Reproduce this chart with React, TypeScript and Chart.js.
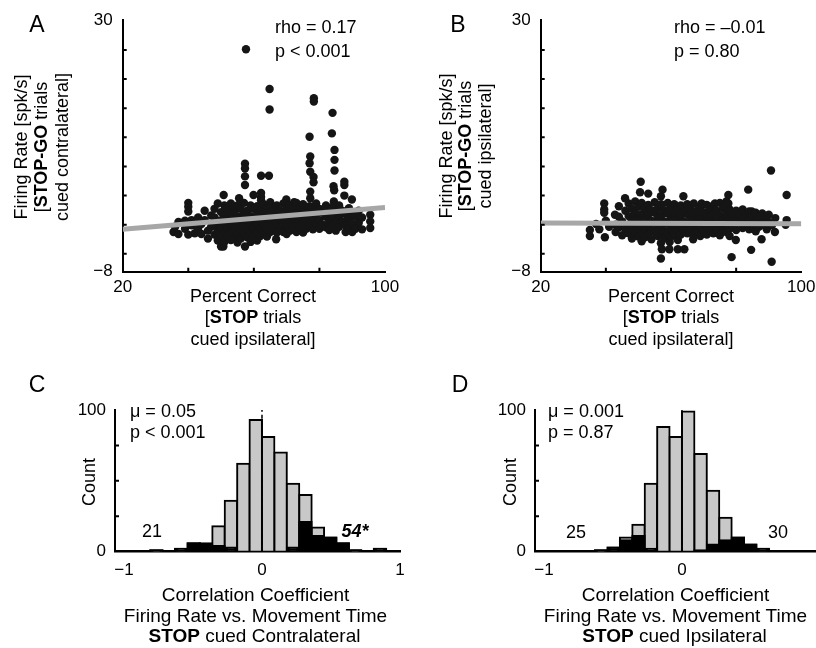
import React, { useEffect, useRef } from "react";
import { Chart, registerables } from "chart.js";
Chart.register(...registerables);

const FONT = '"Liberation Sans", Arial, Helvetica, sans-serif';

// ---------------- Panels A / B : scatter ----------------
const scatterXTicks = [20, 40, 60, 80, 100];
const scatterYTicks = [-8, -5.3, -0.9, 3.5, 7.9, 12.3, 16.7, 21.1, 25.5, 30];
const fitA: [number, number][] = [[20, -1.6], [100, 1.7]];
const fitB: [number, number][] = [[20, -0.65], [100, -0.75]];

const ptsA: [number, number][] = [
  [57.6,25.6],[64.8,19.6],[64.8,16.5],[78.3,18.2],[78.3,17.7],[84.0,16.0],[83.8,12.9],[77.0,12.4],
  [77.2,9.4],[84.6,10.4],[84.6,8.9],[84.6,7.3],[77.0,8.4],[77.2,7.1],[78.2,6.3],[78.2,5.5],[77.2,4.1],
  [77.2,3.1],[84.3,4.9],[84.5,4.3],[87.6,5.6],[87.6,5.1],[87.6,3.5],[89.9,2.9],[57.3,8.3],[57.3,7.6],
  [57.3,6.4],[57.3,5.1],[62.2,6.5],[64.6,6.5],[62.2,3.9],[62.2,3.3],[62.2,2.8],[59.9,3.6],[55.5,3.1],
  [50.8,3.6],[69.9,2.9],[72.3,2.5],[40.0,2.4],[40.0,1.8],[40.0,1.1],[35.5,-2.0],[95.5,0.6],[95.5,-0.4],
  [95.5,-1.4],[50.7,-4.2],[57.3,-4.2],[66.8,-3.1],[84.4,2.6],
  [36,-1.2],[37,-0.5],[37,-2.3],[39,-1.5],[39,-0.3],[40,-2.4],[41,-1.0],[41,-0.2],[42,-2.2],
  [43,-1.5],[43,0.2],[44,-2.3],[44,-0.8],[45,1.2],[45,-0.2],[46,-1.8],[46,-3.0],[47,0.5],[47,-1.2],
  [48,1.5],[48,0.2],[48,-1.0],[48,-2.4],[49,2.3],[49,-0.5],[49,-1.8],[49,-3.3],[50,1.0],[50,-0.2],
  [50,-1.4],[50,-2.8],[50,-4.2],[51,2.0],[51,0.5],[51,-0.9],[51,-2.1],[51,-3.5],[52,1.6],[52,0.0],
  [52,-1.3],[52,-2.6],[53,2.3],[53,0.9],[53,-0.6],[53,-1.9],[53,-3.2],[54,1.3],[54,-0.1],[54,-1.5],
  [54,-2.9],[55,2.0],[55,0.4],[55,-1.0],[55,-2.3],[55,-3.6],
  [56,1.5],[56,-0.3],[56,-1.7],[56,-3.0],[57,2.4],[57,0.8],[57,-0.8],[57,-2.2],[58,1.2],[58,-0.2],
  [58,-1.6],[58,-2.8],[59,2.0],[59,0.4],[59,-1.0],[59,-2.4],[59,-3.5],[60,1.5],[60,0.0],[60,-1.4],
  [60,-2.7],[61,1.9],[61,0.6],[61,-0.8],[61,-2.0],[61,-3.3],[62,1.2],[62,-0.3],[62,-1.6],[62,-2.6],
  [63,2.2],[63,0.6],[63,-0.9],[63,-2.2],[64,1.6],[64,0.0],[64,-1.4],[64,-2.7],[65,2.5],[65,0.9],
  [65,-0.6],[65,-2.0],[66,1.5],[66,0.2],[66,-1.2],[67,2.0],[67,0.6],[67,-0.8],[67,-2.1],[68,1.2],
  [68,-0.2],[68,-1.6],[69,2.3],[69,0.8],[69,-0.6],[69,-2.0],[70,1.7],[70,0.3],[70,-1.1],[70,-2.3],
  [71,2.1],[71,0.8],[71,-0.5],[71,-1.8],[72,1.5],[72,0.0],[72,-1.3],[73,2.4],[73,0.9],[73,-0.6],
  [73,-2.0],[74,1.6],[74,0.2],[74,-1.2],[75,2.2],[75,0.7],[75,-0.8],[75,-2.1],[76,1.3],[76,-0.1],
  [76,-1.5],[77,1.9],[77,0.6],[77,-0.9],[78,1.5],[78,0.0],[78,-1.6],
  [79,2.3],[79,0.7],[79,-0.8],[80,1.5],[80,-0.2],[80,-1.5],[81,0.9],[81,-0.9],[82,2.0],[82,0.3],
  [82,-1.3],[83,1.2],[83,-0.4],[83,-1.7],[84,1.8],[84,0.3],[84,-1.1],[85,1.0],[85,-0.6],[85,-1.8],
  [86,2.0],[86,0.4],[86,-1.2],[87,1.2],[87,-0.4],[88,0.7],[88,-1.0],[88,-2.0],[89,1.6],[89,0.0],
  [89,-1.4],[90,0.8],[90,-0.8],[90,-2.0],[91,0.3],[91,-1.5],[92,1.2],[92,-0.6],[93,-1.6],[93,0.2],
];

const ptsB: [number, number][] = [
  [35.1,-1.7],[35.1,-2.6],[39.7,-2.8],[39.5,2.3],[39.5,1.4],[39.5,0.9],[37,-0.8],[38,-1.6],[40,-0.3],
  [41,-1.2],[42.8,0.6],
  [43,-0.9],[43,-2.0],[44,1.9],[44,0.3],[44,-1.3],[45,-0.4],[45,-2.5],[45.9,3.1],[46,1.2],[46,-1.5],
  [47,2.3],[47,0.4],[47,-0.9],[47,-2.2],[48,1.5],[48,-0.2],[48,-1.6],[48,-3.0],[49,2.6],[49,0.8],
  [49,-0.7],[49,-2.1],[50,1.8],[50,0.1],[50,-1.3],[50,-2.7],[50.7,5.6],[50.5,4.0],[53,3.8],
  [51,2.4],[51,0.7],[51,-0.8],[51,-2.2],[51,-3.4],[52,1.5],[52,-0.1],[52,-1.5],[52,-2.8],[53,2.1],
  [53,0.6],[53,-0.9],[53,-2.3],[54,1.3],[54,-0.3],[54,-1.7],[54,-3.1],[55,2.5],[55,0.9],[55,-0.6],
  [55,-2.0],[56,1.6],[56,0.0],[56,-1.4],[56,-2.6],[57,2.2],[57,0.5],[57,-1.0],[57,-2.3],[57.4,4.4],
  [56.9,3.4],[56.9,-3.7],[57.2,-4.6],[56.9,-6.0],[58,1.3],[58,-0.4],[58,-1.8],[58,-3.0],[59,2.4],
  [59,0.8],[59,-0.7],[59,-2.1],[59.6,-3.5],[59.5,-4.6],[60,1.6],[60,0.0],[60,-1.5],[60,-2.7],
  [61,2.2],[61,0.6],[61,-0.9],[61,-2.2],[62,1.4],[62,-0.2],[62,-1.6],[62.1,-3.2],[62.1,-4.6],[63,2.0],
  [63,0.4],[63,-1.1],[63,-2.4],[63.8,3.4],[64,1.3],[64,-0.4],[64,-1.8],[64.1,-4.6],[65,2.2],[65,0.7],
  [65,-0.8],[65,-2.2],[66,1.4],[66,-0.1],[66,-1.5],[66.8,-3.1],[67,2.3],[67,0.6],[67,-1.0],[67,-2.4],
  [68,1.2],[68,-0.4],[68,-1.8],[69,1.8],[69,0.2],[69,-1.2],[69,-2.6],[69.4,2.3],[70,1.0],[70,-0.6],
  [70,-2.0],
  [71,2.1],[71,0.4],[71,-1.0],[71,-2.4],[72,1.3],[72,-0.3],[72,-1.7],[73,2.0],[73,0.6],[73,-0.9],
  [73,-2.2],[73.5,2.3],[74,1.2],[74,-0.4],[74,-1.8],[75,2.4],[75,0.5],[75,-1.0],[75,-2.5],[76,1.6],
  [76,-0.2],[76,-1.6],[77,2.6],[77,0.8],[77,-0.7],[77,-2.0],[77.6,3.6],[77.6,2.3],[78,1.4],[78,-0.1],
  [78,-1.5],[78,-2.6],[78.6,-5.8],[79,0.6],[79,-0.9],[79.9,-3.2],[80,1.2],[80,-0.2],[80,-1.7],
  [81,0.8],[81,-0.6],[82,1.4],[82,0.0],[82,-1.4],[83,0.5],[83,-0.8],[83.7,4.4],[84,1.1],[84,-0.2],
  [84,-1.6],[84.6,-4.7],[84.8,1.1],[85,0.3],[85,-1.0],[86,0.9],[86,-0.5],[86,-1.9],[87,0.2],[87,-1.2],
  [87.8,-3.1],[88,0.8],[88,-0.6],[89,0.2],[89,-1.1],[89.4,-1.6],[90,0.6],[90,-0.5],[90.7,7.3],
  [90.9,-6.5],[91,-1.0],[91.9,-2.0],[92,0.1],[95.5,3.6],[95.5,-0.2],[95.2,-0.9],
];

// ---------------- Panels C / D : histograms ----------------
const binCenters = [-0.765,-0.675,-0.585,-0.495,-0.405,-0.315,-0.225,-0.135,-0.045,0.045,0.135,0.225,0.315,0.405,0.495,0.585,0.675,0.765,0.855];
const allC = [1,0,2,6,6,18,36,62,93,81,70,48,40,17,10,6,1,0,2];
const sigC = [1,0,2,6,5,4,3,0,0,0,0,3,21,11,10,6,1,0,2];
const allD = [0,0,1,3,10,19,48,88,81,99,69,43,24,10,5,2,0,0,0];
const sigD = [0,0,1,3,8,11,2,0,0,0,1,5,8,10,5,2,0,0,0];
const histXTicks = [-1, 0, 1];
const histYTicks = [0, 25, 50, 75, 100];
const zeroLine: [number, number][] = [[0, 0], [0, 100]];

// ---------------- text helpers ----------------
type Seg = { t: string; b?: boolean; i?: boolean };
function rich(ctx: CanvasRenderingContext2D, segs: Seg[], x: number, y: number, size: number, align: "left" | "center" = "center") {
  const fonts = segs.map((s) => `${s.i ? "italic " : ""}${s.b ? "bold " : ""}${size}px ${FONT}`);
  let total = 0;
  const ws = segs.map((s, k) => { ctx.font = fonts[k]; const w = ctx.measureText(s.t).width; total += w; return w; });
  let cx = align === "center" ? x - total / 2 : x;
  ctx.textAlign = "left";
  ctx.textBaseline = "middle";
  ctx.fillStyle = "#000";
  segs.forEach((s, k) => { ctx.font = fonts[k]; ctx.fillText(s.t, cx, y); cx += ws[k]; });
}
function rotated(ctx: CanvasRenderingContext2D, segs: Seg[], x: number, y: number, size: number) {
  ctx.save();
  ctx.translate(x, y);
  ctx.rotate(-Math.PI / 2);
  rich(ctx, segs, 0, 0, size);
  ctx.restore();
}

function overlay(offX: number, offY: number, xt: number[], yt: number[], draw: (ctx: CanvasRenderingContext2D) => void) {
  return {
    id: "overlay",
    afterDatasetsDraw(chart: any) {
      const { ctx, chartArea } = chart;
      const xs = chart.scales.x, ys = chart.scales.y;
      ctx.save();
      ctx.strokeStyle = "#000";
      ctx.lineWidth = 2;
      ctx.beginPath();
      xt.forEach((v) => { const p = xs.getPixelForValue(v); ctx.moveTo(p, chartArea.bottom); ctx.lineTo(p, chartArea.bottom - 4); });
      yt.forEach((v) => { const p = ys.getPixelForValue(v); ctx.moveTo(chartArea.left, p); ctx.lineTo(chartArea.left + 4, p); });
      ctx.stroke();
      ctx.restore();
    },
    afterDraw(chart: any) {
      const ctx = chart.ctx;
      ctx.save();
      ctx.translate(-offX, -offY);
      draw(ctx);
      ctx.restore();
    },
  };
}

const minus = (v: number) => (v < 0 ? "\u2212" + String(-v) : String(v));

function axisCommon(min: number, max: number, ticks: number[], labelled: number[], pad: number, fit: (s: any) => void, bw: number) {
  return {
    type: "linear",
    offset: false,
    min, max,
    afterBuildTicks: (s: any) => { s.ticks = ticks.map((v) => ({ value: v })); },
    afterFit: fit,
    grid: { display: false, drawTicks: false, offset: false },
    border: { display: true, color: "#000", width: bw },
    ticks: {
      autoSkip: false, maxRotation: 0, padding: pad, color: "#000",
      font: { family: FONT, size: 17 },
      callback: (v: number) => (labelled.includes(v) ? minus(v) : ""),
    },
  };
}

type Box = { left: number; top: number; width: number; height: number; l: number; r: number; t: number; b: number };

function scatterConfig(pts: [number, number][], fit: [number, number][], box: Box, draw: (ctx: CanvasRenderingContext2D) => void) {
  return {
    type: "scatter",
    data: {
      datasets: [
        { data: fit.map(([x, y]) => ({ x, y })), showLine: true, borderColor: "#a7a7a7", borderWidth: 5, pointRadius: 0, borderCapStyle: "butt", order: 0 },
        { data: pts.map(([x, y]) => ({ x, y })), backgroundColor: "#151515", borderWidth: 0, pointRadius: 4.2, pointHoverRadius: 4.2, order: 1 },
      ],
    },
    options: {
      animation: false, responsive: false, maintainAspectRatio: false,
      events: [],
      layout: { padding: { left: 0, top: box.t - box.top, right: box.left + box.width - box.r, bottom: 0 } },
      plugins: { legend: { display: false }, tooltip: { enabled: false } },
      scales: {
        x: axisCommon(20, 100, scatterXTicks, [20, 100], 5, (s: any) => { s.height = box.top + box.height - box.b; }, 2),
        y: axisCommon(-8, 30, scatterYTicks, [-8, 30], 10, (s: any) => { s.width = box.l - box.left; }, 2),
      },
    },
    plugins: [overlay(box.left, box.top, [40, 60, 80], scatterYTicks.slice(1, -1), draw)],
  };
}

function histConfig(all: number[], sig: number[], box: Box, draw: (ctx: CanvasRenderingContext2D) => void) {
  const barBase = { borderColor: "#000", borderWidth: 2, inflateAmount: 1, borderSkipped: false, grouped: false, barPercentage: 1, categoryPercentage: 1 };
  return {
    type: "bar",
    data: {
      datasets: [
        { type: "line", data: zeroLine.map(([x, y]) => ({ x, y })), borderColor: "#000", borderWidth: 1.5, borderDash: [4, 3], pointRadius: 0, order: 0 },
        { ...barBase, data: binCenters.map((x, k) => ({ x, y: sig[k] || null })), backgroundColor: "#000", order: 1 },
        { ...barBase, data: binCenters.map((x, k) => ({ x, y: all[k] || null })), backgroundColor: "#c8c8c8", order: 2 },
      ],
    },
    options: {
      animation: false, responsive: false, maintainAspectRatio: false,
      events: [],
      layout: { padding: { left: 0, top: box.t - box.top, right: box.left + box.width - box.r, bottom: 0 } },
      plugins: { legend: { display: false }, tooltip: { enabled: false } },
      scales: {
        x: axisCommon(-1.065, 1.0, histXTicks, [-1, 0, 1], 8, (s: any) => { s.height = box.top + box.height - box.b; }, 2.5),
        y: axisCommon(0, 100, histYTicks, [0, 100], 9, (s: any) => { s.width = box.l - box.left; }, 2),
      },
    },
    plugins: [overlay(box.left, box.top, [], [25, 50, 75], draw)],
  };
}

const TS = 18; // annotation / title size
const BS = 19;
const LS = 23;

function drawA(ctx: CanvasRenderingContext2D) {
  rich(ctx, [{ t: "A" }], 37, 26, LS);
  rich(ctx, [{ t: "rho = 0.17" }], 275, 28, TS, "left");
  rich(ctx, [{ t: "p < 0.001" }], 275, 52, TS, "left");
  rich(ctx, [{ t: "Percent Correct" }], 253, 297, TS);
  rich(ctx, [{ t: "[" }, { t: "STOP", b: true }, { t: " trials" }], 253, 318.5, TS);
  rich(ctx, [{ t: "cued ipsilateral]" }], 253, 340, TS);
  rotated(ctx, [{ t: "Firing Rate [spk/s]" }], 22, 147, TS);
  rotated(ctx, [{ t: "[" }, { t: "STOP-GO", b: true }, { t: " trials" }], 42.5, 147, TS);
  rotated(ctx, [{ t: "cued contralateral]" }], 63, 147, TS);
}
function drawB(ctx: CanvasRenderingContext2D) {
  rich(ctx, [{ t: "B" }], 458, 26, LS);
  rich(ctx, [{ t: "rho = \u20130.01" }], 674, 28, TS, "left");
  rich(ctx, [{ t: "p = 0.80" }], 674, 52, TS, "left");
  rich(ctx, [{ t: "Percent Correct" }], 671, 297, TS);
  rich(ctx, [{ t: "[" }, { t: "STOP", b: true }, { t: " trials" }], 671, 318.5, TS);
  rich(ctx, [{ t: "cued ipsilateral]" }], 671, 340, TS);
  rotated(ctx, [{ t: "Firing Rate [spk/s]" }], 447, 146, TS);
  rotated(ctx, [{ t: "[" }, { t: "STOP-GO", b: true }, { t: " trials" }], 466.5, 146, TS);
  rotated(ctx, [{ t: "cued ipsilateral]" }], 486, 146, TS);
}
function drawC(ctx: CanvasRenderingContext2D) {
  rich(ctx, [{ t: "C" }], 37, 386, LS);
  rich(ctx, [{ t: "\u03bc = 0.05" }], 130, 412, TS, "left");
  rich(ctx, [{ t: "p < 0.001" }], 130, 433, TS, "left");
  rotated(ctx, [{ t: "Count" }], 90, 482, TS);
  rich(ctx, [{ t: "21" }], 152, 532, TS);
  rich(ctx, [{ t: "54*", b: true, i: true }], 355, 532, TS);
  rich(ctx, [{ t: "Correlation Coefficient" }], 255.5, 596, BS);
  rich(ctx, [{ t: "Firing Rate vs. Movement Time" }], 255.5, 616.5, BS);
  rich(ctx, [{ t: "STOP", b: true }, { t: " cued Contralateral" }], 254.5, 637, BS);
}
function drawD(ctx: CanvasRenderingContext2D) {
  rich(ctx, [{ t: "D" }], 460, 386, LS);
  rich(ctx, [{ t: "\u03bc = 0.001" }], 548, 412, TS, "left");
  rich(ctx, [{ t: "p = 0.87" }], 548, 433, TS, "left");
  rotated(ctx, [{ t: "Count" }], 511, 482, TS);
  rich(ctx, [{ t: "25" }], 576, 533, TS);
  rich(ctx, [{ t: "30" }], 778, 533, TS);
  rich(ctx, [{ t: "Correlation Coefficient" }], 675.5, 596, BS);
  rich(ctx, [{ t: "Firing Rate vs. Movement Time" }], 675.5, 616.5, BS);
  rich(ctx, [{ t: "STOP", b: true }, { t: " cued Ipsilateral" }], 674.5, 637, BS);
}

const boxA: Box = { left: 0, top: 0, width: 408, height: 352, l: 122.7, r: 385, t: 20, b: 271.7 };
const boxB: Box = { left: 408, top: 0, width: 440, height: 352, l: 540.7, r: 801.3, t: 20, b: 271.7 };
const boxC: Box = { left: 0, top: 324, width: 420, height: 324, l: 115, r: 400, t: 410, b: 551.7 };
const boxD: Box = { left: 420, top: 324, width: 440, height: 324, l: 535, r: 820, t: 410, b: 551.7 };

function Panel({ box, make }: { box: Box; make: () => any }) {
  const ref = useRef<HTMLCanvasElement>(null);
  useEffect(() => {
    const chart = new Chart(ref.current as HTMLCanvasElement, make());
    return () => chart.destroy();
  }, []);
  return (
    <canvas
      ref={ref}
      width={box.width}
      height={box.height}
      style={{ position: "absolute", left: box.left, top: box.top, width: box.width, height: box.height }}
    />
  );
}

export default function App() {
  return (
    <div style={{ position: "fixed", left: 0, top: 0, width: 816, height: 648, overflow: "hidden", background: "#fff" }}>
      <Panel box={boxA} make={() => scatterConfig(ptsA, fitA, boxA, drawA)} />
      <Panel box={boxB} make={() => scatterConfig(ptsB, fitB, boxB, drawB)} />
      <Panel box={boxC} make={() => histConfig(allC, sigC, boxC, drawC)} />
      <Panel box={boxD} make={() => histConfig(allD, sigD, boxD, drawD)} />
    </div>
  );
}
